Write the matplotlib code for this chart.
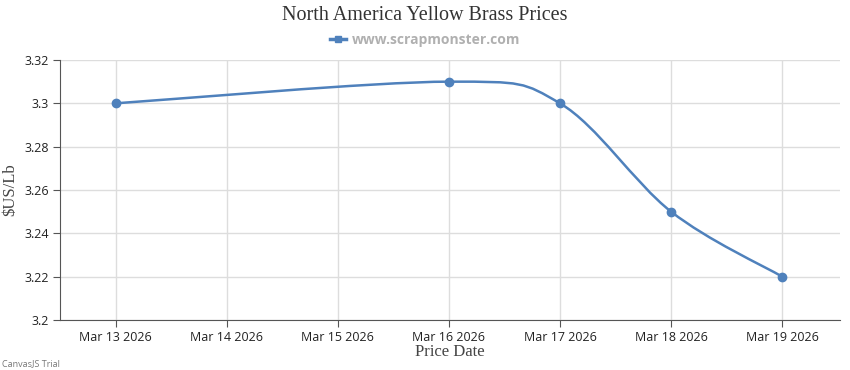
import numpy as np
import matplotlib
matplotlib.use("Agg")
import matplotlib.pyplot as plt
from matplotlib.path import Path
from matplotlib.patches import PathPatch
from matplotlib.lines import Line2D

# data
days = [13, 16, 17, 18, 19]
prices = [3.30, 3.31, 3.30, 3.25, 3.22]
tick_days = [13, 14, 15, 16, 17, 18, 19]
tick_labels = ["Mar 13 2026", "Mar 14 2026", "Mar 15 2026", "Mar 16 2026",
               "Mar 17 2026", "Mar 18 2026", "Mar 19 2026"]
y_ticks = [3.2, 3.22, 3.24, 3.26, 3.28, 3.3, 3.32]
y_labels = ["3.2", "3.22", "3.24", "3.26", "3.28", "3.3", "3.32"]

LINE = "#4F81BC"
SERIF = "Liberation Serif"
SANS = "Open Sans"


def spline_path(xs, ys, t=1.0 / 6):
    """ Catmull-Rom style bezier through the points """
    pts = list(zip(xs, ys))
    verts = [pts[0]]
    codes = [Path.MOVETO]
    for i in range(len(pts) - 1):
        p0 = pts[i - 1] if i > 0 else pts[i]
        p1 = pts[i]
        p2 = pts[i + 1]
        p3 = pts[i + 2] if i + 2 < len(pts) else pts[i + 1]
        c1 = (p1[0] + (p2[0] - p0[0]) * t, p1[1] + (p2[1] - p0[1]) * t)
        c2 = (p2[0] - (p3[0] - p1[0]) * t, p2[1] - (p3[1] - p1[1]) * t)
        verts += [c1, c2, p2]
        codes += [Path.CURVE4] * 3
    return Path(verts, codes)


fig = plt.figure(figsize=(8.5, 3.7), dpi=100)
ax = fig.add_axes([60 / 850, 50 / 370, 780 / 850, 260 / 370])

ax.add_patch(PathPatch(spline_path(days, prices), facecolor="none",
                       edgecolor=LINE, linewidth=1.8, zorder=3))
ax.plot(days, prices, linestyle="none", marker="o", markersize=6,
        color=LINE, zorder=4)

ax.set_xlim(12.5, 19.52)
ax.set_ylim(3.2, 3.32)
ax.set_xticks(tick_days)
ax.set_xticklabels(tick_labels, fontfamily=SANS, fontsize=9, color="#222222")
ax.set_yticks(y_ticks)
ax.set_yticklabels(y_labels, fontfamily=SANS, fontsize=9, color="#222222")
ax.grid(True, color="#dddddd", linewidth=1)
ax.set_axisbelow(True)
for s in ("top", "right"):
    ax.spines[s].set_visible(False)
for s in ("left", "bottom"):
    ax.spines[s].set_color("#555555")
ax.tick_params(axis="both", length=5, color="#555555", pad=3)

ax.set_xlabel("Price Date", fontfamily=SERIF, fontsize=12, color="#444444", labelpad=0)
ax.set_ylabel("$US/Lb", fontfamily=SERIF, fontsize=12, color="#444444", labelpad=4)

fig.text(0.5, 1 - 16 / 370, "North America Yellow Brass Prices", ha="center",
         va="center", fontfamily=SERIF, fontsize=14.5, color="#333333")

handle = Line2D([], [], color=LINE, linewidth=2.5, marker="s", markersize=5)
fig.legend([handle], ["www.scrapmonster.com"], loc="center",
           bbox_to_anchor=(0.5, 1 - 40 / 370), frameon=False, handlelength=1.2,
           handletextpad=0.4, prop={"family": SANS, "size": 10, "weight": "bold"},
           labelcolor="#b0b0b0")

fig.text(0.002, 6 / 370, "CanvasJS Trial", ha="left", va="center",
         fontfamily=SANS, fontsize=6.5, color="#777777")

fig.savefig("out.png", dpi=100)
